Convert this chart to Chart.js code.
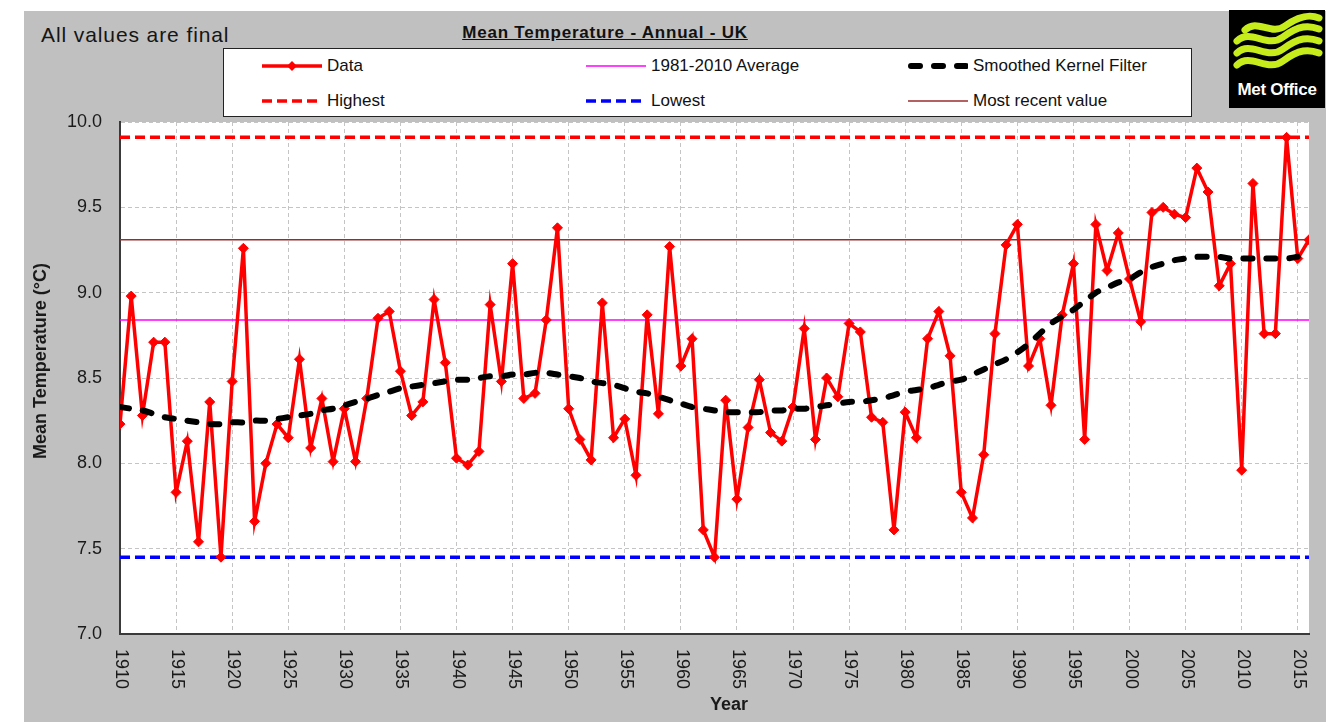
<!DOCTYPE html>
<html><head><meta charset="utf-8">
<script src="https://cdn.jsdelivr.net/npm/chart.js@4.4.1/dist/chart.umd.min.js"></script>
<style>
html,body{margin:0;padding:0;background:#fff;width:1326px;height:722px;overflow:hidden;font-family:"Liberation Sans",Arial,sans-serif;}
#panel{position:absolute;left:24px;top:11px;width:1302px;height:711px;background:#c0c0c0;}
#wrap{position:absolute;left:0;top:0;width:1326px;height:722px;}
#note{position:absolute;left:41px;top:24px;font-size:21px;line-height:21px;color:#151515;white-space:nowrap;letter-spacing:0.9px;}
#title{position:absolute;left:355px;width:500px;top:24px;text-align:center;font-weight:bold;font-size:17px;line-height:17px;text-decoration:underline;letter-spacing:0.8px;color:#111;white-space:nowrap;}
#legend{position:absolute;left:223px;top:48px;width:967px;height:67px;background:#fff;border:1px solid #222;}
.li{position:absolute;height:20px;display:flex;align-items:center;font-size:17px;line-height:20px;white-space:nowrap;color:#111;}
.li svg{margin-right:5px;display:block;}
#logo{position:absolute;left:1229px;top:10px;width:96px;height:98px;background:#000;}
#logo .t{position:absolute;left:0;width:96px;top:71px;text-align:center;color:#fff;font-weight:bold;font-size:17px;line-height:18px;letter-spacing:-0.3px;}
</style></head>
<body>
<div id="panel"></div>
<div id="note">All values are final</div>
<div id="title">Mean Temperature - Annual - UK</div>
<div id="legend"></div>
<div id="logo">
  <svg width="96" height="70" viewBox="0 0 96 70">
    <g fill="none" stroke="#c6ec1c" stroke-width="7" stroke-linecap="round">
      <path d="M16 20 C 28 8, 42 26, 56 16 S 80 4, 90 8"/>
      <path d="M8 31 C 22 18, 38 39, 54 27 S 80 15, 90 19"/>
      <path d="M8 43 C 22 30, 38 51, 54 39 S 80 27, 90 31"/>
      <path d="M8 55 C 22 42, 38 63, 54 51 S 80 39, 90 43"/>
    </g>
  </svg>
  <div class="t">Met Office</div>
</div>
<div id="wrap"><canvas id="c"></canvas></div>
<script>
// ---- data ----
const years = [1910,1911,1912,1913,1914,1915,1916,1917,1918,1919,1920,1921,1922,1923,1924,1925,1926,1927,1928,1929,
1930,1931,1932,1933,1934,1935,1936,1937,1938,1939,1940,1941,1942,1943,1944,1945,1946,1947,1948,1949,
1950,1951,1952,1953,1954,1955,1956,1957,1958,1959,1960,1961,1962,1963,1964,1965,1966,1967,1968,1969,
1970,1971,1972,1973,1974,1975,1976,1977,1978,1979,1980,1981,1982,1983,1984,1985,1986,1987,1988,1989,
1990,1991,1992,1993,1994,1995,1996,1997,1998,1999,2000,2001,2002,2003,2004,2005,2006,2007,2008,2009,
2010,2011,2012,2013,2014,2015,2016];
const meanTemp = [8.23,8.98,8.28,8.71,8.71,7.83,8.13,7.54,8.36,7.45,8.48,9.26,7.66,8.00,8.23,8.15,8.61,8.09,8.38,8.01,
8.32,8.01,8.38,8.85,8.89,8.54,8.28,8.36,8.96,8.59,8.03,7.99,8.07,8.93,8.48,9.17,8.38,8.41,8.84,9.38,
8.32,8.14,8.02,8.94,8.15,8.26,7.93,8.87,8.29,9.27,8.57,8.73,7.61,7.45,8.37,7.79,8.21,8.49,8.18,8.13,
8.33,8.79,8.14,8.50,8.39,8.82,8.77,8.27,8.24,7.61,8.30,8.15,8.73,8.89,8.63,7.83,7.68,8.05,8.76,9.28,
9.40,8.57,8.73,8.34,8.87,9.17,8.14,9.40,9.13,9.35,9.08,8.83,9.47,9.50,9.46,9.44,9.73,9.59,9.04,9.17,
7.96,9.64,8.76,8.76,9.91,9.20,9.31];
const smoothed = [8.33,8.32,8.31,8.29,8.27,8.26,8.25,8.24,8.23,8.23,8.24,8.24,8.25,8.25,8.26,8.27,8.28,8.29,8.31,8.32,
8.34,8.36,8.38,8.40,8.42,8.44,8.45,8.46,8.47,8.48,8.49,8.49,8.50,8.51,8.51,8.52,8.52,8.53,8.53,8.52,
8.51,8.50,8.48,8.47,8.46,8.44,8.42,8.41,8.39,8.37,8.35,8.33,8.32,8.31,8.30,8.30,8.30,8.30,8.31,8.31,
8.32,8.32,8.33,8.34,8.35,8.36,8.36,8.37,8.38,8.40,8.42,8.43,8.44,8.46,8.48,8.49,8.52,8.55,8.58,8.61,
8.65,8.70,8.76,8.82,8.86,8.90,8.95,9.00,9.03,9.06,9.08,9.12,9.15,9.17,9.19,9.20,9.21,9.21,9.21,9.20,
9.20,9.20,9.20,9.20,9.20,9.21,null];
const highestValue = 9.91;
const lowestValue = 7.45;
const average19812010 = 8.84;
const mostRecentValue = 9.31;
const xTickYears = [1910,1915,1920,1925,1930,1935,1940,1945,1950,1955,1960,1965,1970,1975,1980,1985,1990,1995,2000,2005,2010,2015];
const yTickValues = [7.0,7.5,8.0,8.5,9.0,9.5,10.0];
const seriesLabels = ['Data','1981-2010 Average','Smoothed Kernel Filter','Highest','Lowest','Most recent value'];
const yAxisTitle = 'Mean Temperature (\u00B0C)';
const xAxisTitle = 'Year';

// ---- build ----
const FONT = '"Liberation Sans", Arial, sans-serif';
const firstYear = years[0], lastYear = years[years.length-1];
const pts = arr => years.map((yr,i)=>({x:yr,y:arr[i]}));
const flat = v => [{x:firstYear,y:v},{x:lastYear,y:v}];

const datasets = [
  {label:seriesLabels[0], data:pts(meanTemp), borderColor:'#ff0000', backgroundColor:'#ff0000', borderWidth:3.5,
   pointStyle:'rectRot', pointRadius:5, pointBackgroundColor:'#ff0000', pointBorderColor:'#ff0000', pointBorderWidth:1, tension:0, order:2},
  {label:seriesLabels[1], data:flat(average19812010), borderColor:'#ff00ff', borderWidth:1.5, pointRadius:0, order:5},
  {label:seriesLabels[2], data:pts(smoothed), borderColor:'#000000', borderWidth:6, borderDash:[9,14], borderCapStyle:'round',
   pointRadius:0, tension:0.3, order:1, spanGaps:false},
  {label:seriesLabels[3], data:flat(highestValue), borderColor:'#ff0000', borderWidth:3.5, borderDash:[10,5], pointRadius:0, order:3},
  {label:seriesLabels[4], data:flat(lowestValue), borderColor:'#0000ff', borderWidth:3.5, borderDash:[10,5], pointRadius:0, order:3},
  {label:seriesLabels[5], data:flat(mostRecentValue), borderColor:'#9a2c2c', borderWidth:1.5, pointRadius:0, order:4}
];

const plotBg = {
  id:'plotBg',
  beforeDraw(chart){
    const {ctx, chartArea:a} = chart;
    ctx.save(); ctx.fillStyle='#ffffff'; ctx.fillRect(a.left,a.top,a.right-a.left,a.bottom-a.top); ctx.restore();
  }
};
const axisText = {
  id:'axisText',
  afterDraw(chart){
    const {ctx, chartArea:a} = chart;
    const xs = chart.scales.x;
    ctx.save();
    ctx.fillStyle='#1a1a1a';
    ctx.font = '18px '+FONT;
    ctx.textAlign='left'; ctx.textBaseline='middle';
    xs.ticks.forEach(t=>{
      const px = xs.getPixelForValue(t.value);
      ctx.save(); ctx.translate(px+1, a.bottom+15); ctx.rotate(Math.PI/2);
      ctx.fillText(String(t.value),0,0); ctx.restore();
    });
    ctx.font = 'bold 18px '+FONT;
    ctx.textAlign='center';
    ctx.fillText(xAxisTitle, 729, 705);
    ctx.save(); ctx.translate(41, 361); ctx.rotate(-Math.PI/2); ctx.fillText(yAxisTitle,0,0); ctx.restore();
    ctx.restore();
  }
};

const gridCommon = {color:'#c4c4c4', lineWidth:1, drawTicks:false};
const chart = new Chart(document.getElementById('c'), {
  type:'line',
  data:{datasets},
  options:{
    responsive:true, maintainAspectRatio:false, animation:false,
    layout:{padding:{left:40, top:122, right:17, bottom:0}},
    plugins:{legend:{display:false}, tooltip:{enabled:false}, title:{display:false}},
    elements:{line:{fill:false}},
    scales:{
      x:{type:'linear', min:firstYear, max:lastYear,
         afterBuildTicks:s=>{s.ticks = xTickYears.map(v=>({value:v}));},
         ticks:{display:false},
         grid:gridCommon,
         border:{display:true, color:'#3a3a3a', width:2, dash:[4,3]},
         afterFit:s=>{s.height=88;}},
      y:{type:'linear', min:yTickValues[0], max:yTickValues[yTickValues.length-1],
         afterBuildTicks:s=>{s.ticks = yTickValues.map(v=>({value:v}));},
         ticks:{callback:v=>Number(v).toFixed(1), font:{size:18, family:FONT}, color:'#1a1a1a', padding:18},
         grid:gridCommon,
         border:{display:true, color:'#3a3a3a', width:2, dash:[4,3]},
         afterFit:s=>{s.width=80;}}
    }
  },
  plugins:[plotBg, axisText]
});

// ---- HTML legend built from the datasets ----
const legendPos = [[38,7],[362,7],[684,7],[38,42],[362,42],[684,42]];
const leg = document.getElementById('legend');
chart.data.datasets.forEach((ds,i)=>{
  const round = ds.borderCapStyle==='round';
  let svg = `<svg width="60" height="14" viewBox="0 0 60 14"><line x1="${round?3:0}" y1="7" x2="${round?58:60}" y2="7" stroke="${ds.borderColor}" stroke-width="${ds.borderWidth}" stroke-dasharray="${(ds.borderDash||[]).join(' ')}" stroke-linecap="${round?'round':'butt'}"/>`;
  if (ds.pointRadius>0) svg += `<rect x="26.5" y="3.5" width="7" height="7" transform="rotate(45 30 7)" fill="${ds.borderColor}"/>`;
  svg += '</svg>';
  const d = document.createElement('div');
  d.className='li';
  d.style.left = legendPos[i][0]+'px';
  d.style.top = legendPos[i][1]+'px';
  d.innerHTML = svg + '<span>'+ds.label+'</span>';
  leg.appendChild(d);
});
</script>
</body></html>
